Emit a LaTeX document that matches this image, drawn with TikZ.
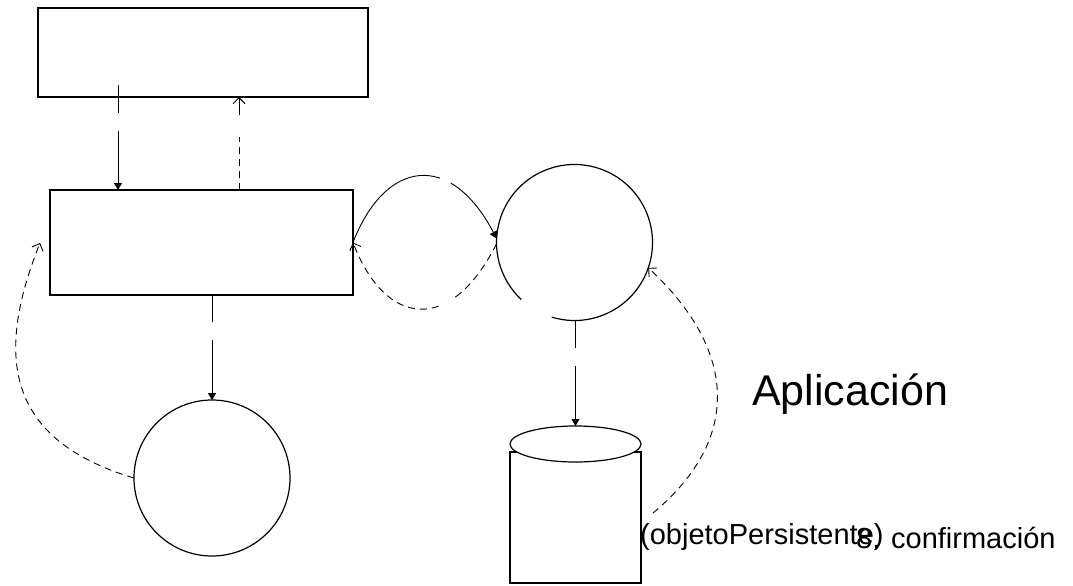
\documentclass[tikz,border=0pt]{standalone}
\usepackage{fontspec}
\setmainfont{Liberation Sans}
\usetikzlibrary{arrows.meta,shapes.geometric,calc}
\begin{document}
\begin{tikzpicture}[x=1pt,y=1pt,
  boxst/.style={draw, line width=1.2pt, inner sep=0pt, outer sep=0pt},
  conn/.style={line width=0.9pt},
  dsh/.style={dash pattern=on 7pt off 5pt},
  tri/.tip={Triangle[width=8pt,length=7pt]},
  barb/.tip={Straight Barb[width=12pt,length=6pt]},
  lbl/.style={inner sep=0pt, anchor=base west}]
\useasboundingbox (0,0) rectangle (1073,-586);
% shapes
\node[boxst, minimum width=330pt, minimum height=89pt] (top) at (203,-52.5) {};
\node[boxst, minimum width=303pt, minimum height=105pt] (mid) at (201.5,-242.5) {};
\node[circle, inner sep=0pt, outer sep=0pt, minimum size=156pt] (c1) at (574.5,-242.5) {};
\draw[line width=1.2pt] (c1.253) arc[start angle=253, end angle=587, radius=78pt];
\node[boxst, circle, minimum size=156pt] (c2) at (212,-478) {};
\node[boxst, minimum width=131pt, minimum height=131pt] (dbbody) at (575.5,-517.5) {};
\node[boxst, ellipse, fill=white, minimum width=131pt, minimum height=36pt] (db) at (575.5,-444) {};
% straight connectors
\coordinate (xa) at (118,-85);
\draw[conn,-tri,dash pattern=on 28pt off 18pt on 200pt off 0pt] (xa) -- (xa |- mid.north);
\coordinate (xb) at (239,0);
\draw[conn,-barb,dash pattern=on 7pt off 5pt on 7pt off 5pt on 7pt off 5pt on 7pt off 5pt on 5pt off 22pt on 40pt off 0pt] (xb |- mid.north) -- (xb |- top.south);
\draw[conn,-tri,dash pattern=on 27pt off 18pt on 200pt off 0pt] (mid.south -| c2.north) -- (c2.north);
\draw[conn,-tri,dash pattern=on 27.5pt off 18pt on 200pt off 0pt] (c1.south -| db.north) -- (db.north);
% curved connectors
\draw[conn,-tri,dash pattern=on 120pt off 12pt on 300pt off 0pt] (mid.east) .. controls (385,-160) and (450,-150) .. (c1.177);
\draw[conn,-barb,dash pattern=on 7pt off 5pt on 7pt off 5pt on 7pt off 5pt on 7pt off 5pt on 7pt off 5pt on 8pt off 19pt on 7pt off 5pt on 7pt off 5pt on 7pt off 5pt on 7pt off 5pt on 7pt off 5pt on 7pt off 5pt on 7pt off 5pt on 7pt off 5pt on 7pt off 5pt on 7pt off 5pt on 7pt off 5pt] (c1.181) .. controls (450,-336) and (385,-326) .. (mid.east);
\coordinate (dbs) at (653,-513);
\draw[conn,-barb,dsh] (dbs) .. controls (743,-438) and (736,-349) .. (c1.-19);
\coordinate (mle) at (40,-243);
\draw[conn,-barb,dsh] (c2.west) .. controls (4.4,-439.2) and (-4.4,-354.6) .. (mle);
% texts
\node[lbl, font=\fontsize{43pt}{50pt}\selectfont] (app) at (752,-405) {Aplicación};
\node[lbl, font=\fontsize{29pt}{34pt}\selectfont] (obj) at (640,-544) {(objetoPersistente)};
\node[lbl, font=\fontsize{29pt}{34pt}\selectfont] (conf) at (856,-548.5) {8. confirmación};
\end{tikzpicture}
\end{document}
